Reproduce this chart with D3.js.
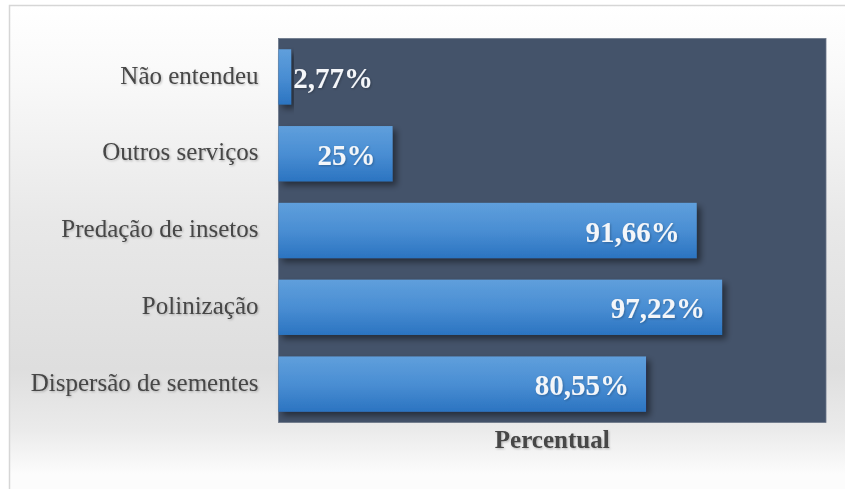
<!DOCTYPE html>
<html>
<head>
<meta charset="utf-8">
<script src="https://cdn.jsdelivr.net/npm/d3@7"></script>
<style>
  html, body { margin: 0; padding: 0; background: #ffffff; }
  svg { display: block; }
</style>
</head>
<body>
<svg id="chart" width="845" height="489"></svg>
<script>
const categories = ["Não entendeu", "Outros serviços", "Predação de insetos", "Polinização", "Dispersão de sementes"];
const values = [2.77, 25, 91.66, 97.22, 80.55];
const valueLabels = ["2,77%", "25%", "91,66%", "97,22%", "80,55%"];
const axisTitle = "Percentual";

const data = categories.map((c, i) => ({ c, v: values[i], l: valueLabels[i] }));

const W = 845, H = 489;
const plot = { left: 278.5, right: 826, top: 38.5, bottom: 422.5 };

const svg = d3.select("#chart");
const defs = svg.append("defs");

const bg = defs.append("linearGradient").attr("id", "bgGrad")
  .attr("x1", 0).attr("y1", 0).attr("x2", 0).attr("y2", 1);
[[0, "#ffffff"], [0.15, "#f9f9f9"], [0.45, "#e8e8e8"], [0.75, "#dedede"], [0.88, "#ebebeb"], [0.97, "#fcfcfc"]]
  .forEach(([o, c]) => bg.append("stop").attr("offset", o).attr("stop-color", c));

const barGrad = defs.append("linearGradient").attr("id", "barGrad")
  .attr("x1", 0).attr("y1", 0).attr("x2", 0).attr("y2", 1);
[[0, "#5f9fdc"], [0.5, "#4a8ed3"], [1, "#2b74c1"]]
  .forEach(([o, c]) => barGrad.append("stop").attr("offset", o).attr("stop-color", c));

const shadow = defs.append("filter").attr("id", "shadow")
  .attr("x", "-10%").attr("y", "-20%").attr("width", "130%").attr("height", "160%");
shadow.append("feDropShadow").attr("dx", 4).attr("dy", 4).attr("stdDeviation", 3)
  .attr("flood-color", "#000").attr("flood-opacity", 0.45);

const txtShadow = defs.append("filter").attr("id", "txtShadow")
  .attr("x", "-10%").attr("y", "-20%").attr("width", "130%").attr("height", "160%");
txtShadow.append("feDropShadow").attr("dx", 1).attr("dy", 1).attr("stdDeviation", 0.8)
  .attr("flood-color", "#000").attr("flood-opacity", 0.25);

// chart area background
svg.append("rect").attr("x", 9).attr("y", 5).attr("width", W - 9).attr("height", H - 5)
  .attr("fill", "url(#bgGrad)");
svg.append("path").attr("d", `M9.5,${H} L9.5,5.5 L${W},5.5`)
  .attr("fill", "none").attr("stroke", "#d6d6d6").attr("stroke-width", 1.5);

const x = d3.scaleLinear().domain([0, 120]).range([plot.left, plot.right]);
const y = d3.scaleBand().domain(categories).range([plot.top, plot.bottom])
  .paddingInner(0.28).paddingOuter(0.14);

// plot area
svg.append("rect").attr("x", plot.left).attr("y", plot.top)
  .attr("width", plot.right - plot.left).attr("height", plot.bottom - plot.top)
  .attr("fill", "#44536a").attr("stroke", "#6b7789").attr("stroke-width", 0.8);

// bars
svg.append("g").selectAll("rect").data(data).join("rect")
  .attr("x", x(0))
  .attr("y", d => y(d.c))
  .attr("width", d => x(d.v) - x(0))
  .attr("height", y.bandwidth())
  .attr("fill", "url(#barGrad)")
  .attr("filter", "url(#shadow)");

// value labels
const lbl = svg.append("g").selectAll("text").data(data).join("text")
  .attr("y", d => y(d.c) + y.bandwidth() / 2 + 11)
  .attr("font-family", "'Liberation Serif', 'Times New Roman', serif")
  .attr("font-size", 29).attr("font-weight", "bold")
  .attr("fill", "#f4f6f9")
  .attr("filter", "url(#txtShadow)")
  .text(d => d.l);
lbl.each(function (d) {
  const w = this.getComputedTextLength();
  const bw = x(d.v) - x(0);
  const sel = d3.select(this);
  if (bw > w + 24) sel.attr("x", x(d.v) - 17).attr("text-anchor", "end");
  else sel.attr("x", x(d.v) + 2).attr("text-anchor", "start");
});

// category axis
const yAxis = svg.append("g").attr("transform", `translate(${plot.left},0)`)
  .call(d3.axisLeft(y).tickSize(0).tickPadding(20));
yAxis.select(".domain").remove();
yAxis.selectAll("text")
  .attr("font-family", "'Liberation Serif', 'Times New Roman', serif")
  .attr("font-size", 25).attr("fill", "#464646").attr("dy", "0.27em")
  .attr("filter", "url(#txtShadow)");

// axis title
svg.append("text")
  .attr("x", (plot.left + plot.right) / 2).attr("y", 448)
  .attr("text-anchor", "middle")
  .attr("font-family", "'Liberation Serif', 'Times New Roman', serif")
  .attr("font-size", 25).attr("font-weight", "bold").attr("fill", "#464646")
  .attr("filter", "url(#txtShadow)")
  .text(axisTitle);
</script>
</body>
</html>
